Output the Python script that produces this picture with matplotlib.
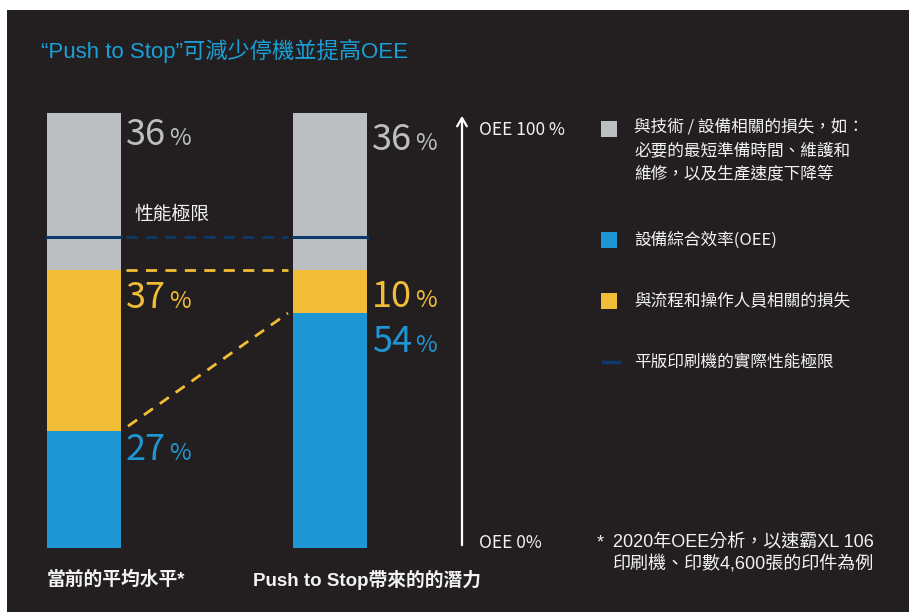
import matplotlib
matplotlib.use("Agg")
import matplotlib.pyplot as plt
from matplotlib.patches import Rectangle
from matplotlib.lines import Line2D

plt.rcParams['font.family'] = ['Noto Sans CJK TC', 'DejaVu Sans']

# data (percent of OEE 100%)
bars = ["當前的平均水平*", "Push to Stop帶來的的潛力"]
oee = [27, 54]
process_loss = [37, 10]
tech_loss = [36, 36]
perf_limit = 71.5

legend_labels = ["與技術 / 設備相關的損失，如：\n必要的最短準備時間、維護和\n維修，以及生產速度下降等",
                 "設備綜合效率(OEE)",
                 "與流程和操作人員相關的損失",
                 "平版印刷機的實際性能極限"]

BG = "#231f20"
GRAY = "#bcbfc2"
YEL = "#f2bd36"
BLUE = "#1e96d4"
NAVY = "#0d3a6b"
WHITE = "#f2f2f2"
TITLE = "#1aa0d8"

W, H = 909, 612
fig = plt.figure(figsize=(W / 100, H / 100), dpi=100, facecolor="white")
fig.patches.append(Rectangle((7 / W, 0), 1 - 7 / W, 1 - 10 / H, transform=fig.transFigure,
                             facecolor=BG, edgecolor="none", zorder=-10))


def px(x, y):
    return x / W, 1 - y / H


latin = ['Liberation Sans', 'Noto Sans CJK TC']

# bar axes: y 0..100 spans pixel 548..113, bar centers at px 84 and 330
y0, y1 = 548, 113
ax = fig.add_axes([7 / W, (H - y0) / H, (908 - 7) / W, (y0 - y1) / H])
ax.set_facecolor("none")
ax.set_zorder(1)
unit = 246.0
ax.set_xlim(-(84 - 7) / unit, 1 + (908 - 330) / unit)
ax.set_ylim(0, 100)
ax.axis("off")

xs = [0, 1]
bw = 74 / unit
ax.bar(xs, oee, width=bw, color=BLUE, zorder=2)
ax.bar(xs, process_loss, bottom=oee, width=bw, color=YEL, zorder=2)
bot2 = [a + b for a, b in zip(oee, process_loss)]
ax.bar(xs, tech_loss, bottom=bot2, width=bw, color=GRAY, zorder=2)

# performance limit line: solid in bars, dashed between
for x in xs:
    ax.plot([x - bw / 2, x + bw / 2], [perf_limit, perf_limit], color=NAVY, lw=2.2, zorder=3)
gap_l, gap_r = xs[0] + bw / 2 + 5 / unit, xs[1] - bw / 2 - 5 / unit
ax.plot([gap_l, gap_r], [perf_limit, perf_limit], color=NAVY, lw=2, dashes=(4, 3), zorder=3)
ax.plot([gap_l, gap_r], [bot2[0], bot2[0]], color=YEL, lw=2, dashes=(4, 3), zorder=3)
ax.plot([gap_l + 2 / unit, gap_r], [oee[0] + 1, oee[1]], color=YEL, lw=2, dashes=(4, 3), zorder=3)

# arrow axis
ax_x = (462 - 84) / unit
ax.annotate("", xy=(ax_x, 100), xytext=(ax_x, 0),
            arrowprops=dict(arrowstyle="->,head_width=0.35,head_length=0.6", color="white", lw=1.6))

# value labels
def value_label(xpx, base_y, val, color):
    fig.text(*px(xpx, base_y), str(val), color=color, fontsize=26, va="baseline", ha="left")
    fig.text(*px(xpx + 43, base_y), "%", color=color, fontsize=17, va="baseline", ha="left")

value_label(126, 145, tech_loss[0], GRAY)
value_label(126, 308, process_loss[0], YEL)
value_label(126, 460, oee[0], BLUE)
value_label(372, 150, tech_loss[1], GRAY)
value_label(372, 307, process_loss[1], YEL)
value_label(372, 352, oee[1], BLUE)

fig.text(*px(134, 214), "性能極限", color=WHITE, fontsize=13.5, va="center")

# title
fig.text(*px(41, 51), "“Push to Stop”可減少停機並提高OEE", color=TITLE, fontsize=16,
         va="center", family=latin)

# axis labels
fig.text(*px(479, 130), "OEE 100 %", color=WHITE, fontsize=12.5, va="center")
fig.text(*px(479, 543), "OEE 0%", color=WHITE, fontsize=12.5, va="center")

# bottom category labels
fig.text(*px(47, 580), bars[0], color=WHITE, fontsize=13.5, va="center", weight="bold", family=latin)
fig.text(*px(253, 580), bars[1], color=WHITE, fontsize=13.5, va="center", weight="bold", family=latin)

# legend
sq = 16
for (c, yc) in [(GRAY, 129), (BLUE, 240), (YEL, 301)]:
    fig.patches.append(Rectangle(px(601, yc + sq / 2), sq / W, sq / H, transform=fig.transFigure,
                                 facecolor=c, edgecolor="none"))
fig.lines.append(Line2D([603 / W, 619 / W], [1 - 362 / H] * 2, transform=fig.transFigure,
                        color=NAVY, lw=2.5))
fig.text(*px(634, 118), legend_labels[0], color=WHITE, fontsize=12, va="top", linespacing=1.55)
fig.text(*px(634, 240), legend_labels[1], color=WHITE, fontsize=12, va="center")
fig.text(*px(634, 301), legend_labels[2], color=WHITE, fontsize=12, va="center")
fig.text(*px(634, 362), legend_labels[3], color=WHITE, fontsize=12, va="center")

# footnote
fig.text(*px(597, 543), "*", color=WHITE, fontsize=13, va="center", family=latin)
fig.text(*px(613, 543), "2020年OEE分析，以速霸XL 106", color=WHITE, fontsize=13, va="center", family=latin)
fig.text(*px(613, 564), "印刷機、印數4,600張的印件為例", color=WHITE, fontsize=13, va="center", family=latin)

fig.savefig("out.png", dpi=100, facecolor="white")
